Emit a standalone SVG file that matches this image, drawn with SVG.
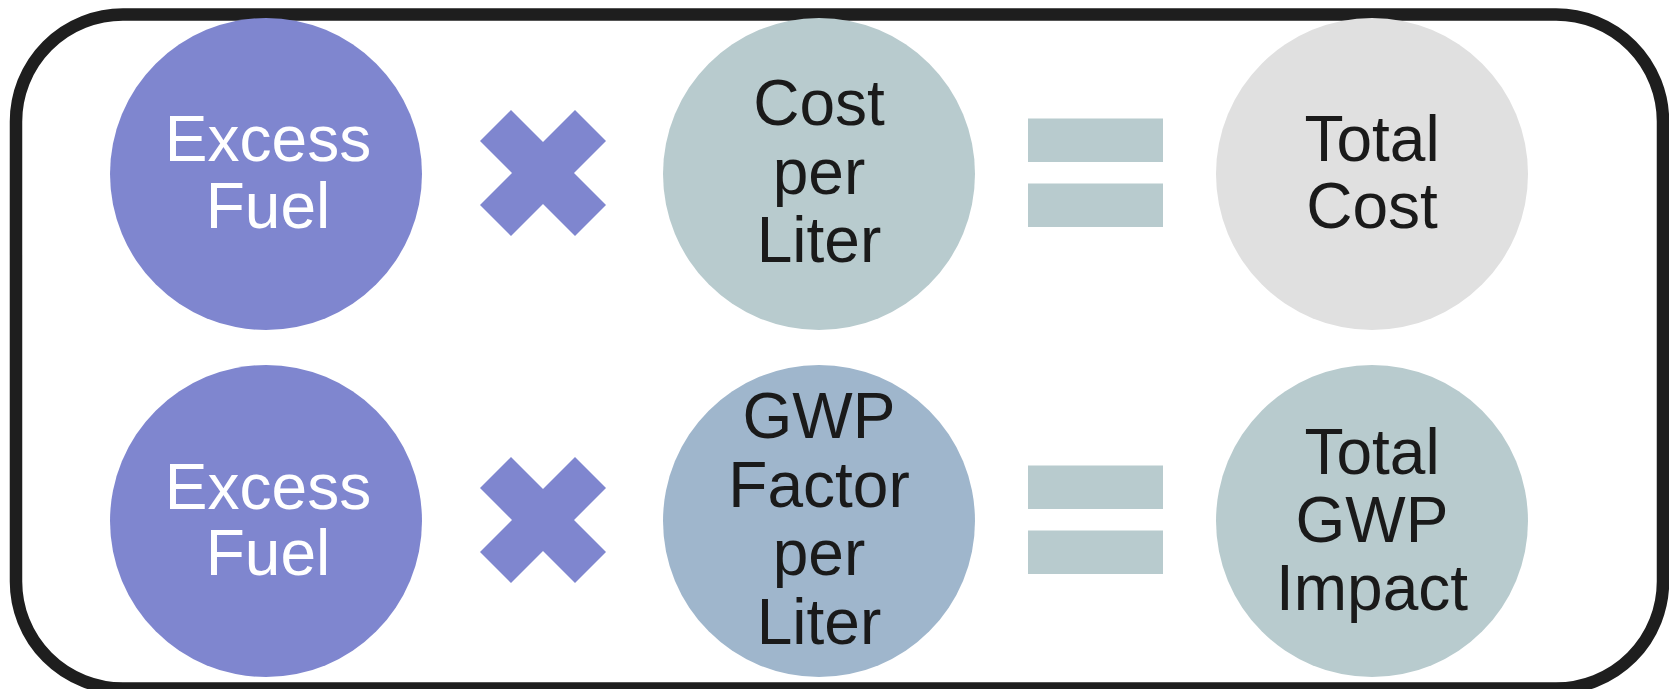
<svg xmlns="http://www.w3.org/2000/svg" width="1669" height="689" viewBox="0 0 1669 689">
  <style>
    .lbl { font-family: "Liberation Sans", Arial, sans-serif; font-size: 64px; text-anchor: middle; }
    .dark { fill: #1a1a1a; }
    .light { fill: #ffffff; }
    .purple { fill: #7f86cf; }
    .grayblue { fill: #b8cbce; }
    .gray { fill: #e0e0e0; }
    .blue { fill: #9fb6cc; }
  </style>
  <defs>
    <polygon id="times" points="-32,-63 0,-31 32,-63 63,-32 31,0 63,32 32,63 0,31 -32,63 -63,32 -31,0 -63,-32"/>
    <g id="equals">
      <rect x="1028" y="-54.5" width="135" height="43.5"/>
      <rect x="1028" y="10.5" width="135" height="43.5"/>
    </g>
  </defs>
  <rect x="0" y="0" width="1669" height="689" fill="#ffffff"/>
  <rect id="frame" x="16" y="14.5" width="1647" height="674" rx="107" ry="107" fill="none" stroke="#1e1e1e" stroke-width="12.5"/>

  <g id="connectors">
    <use href="#times" x="543" y="173" class="purple"/>
    <use href="#times" x="543" y="520" class="purple"/>
    <use href="#equals" x="0" y="173" class="grayblue"/>
    <use href="#equals" x="0" y="520" class="grayblue"/>
  </g>

  <g id="excess-fuel-1">
    <circle cx="266" cy="174" r="156" class="purple"/>
    <text class="lbl light" x="268" y="161">Excess</text>
    <text class="lbl light" x="268" y="228">Fuel</text>
  </g>
  <g id="cost-per-liter">
    <circle cx="819" cy="174" r="156" class="grayblue"/>
    <text class="lbl dark" x="819" y="125">Cost</text>
    <text class="lbl dark" x="819" y="193.5">per</text>
    <text class="lbl dark" x="819" y="262">Liter</text>
  </g>
  <g id="total-cost">
    <circle cx="1372" cy="174" r="156" class="gray"/>
    <text class="lbl dark" x="1372" y="161">Total</text>
    <text class="lbl dark" x="1372" y="227.5">Cost</text>
  </g>

  <g id="excess-fuel-2">
    <circle cx="266" cy="521" r="156" class="purple"/>
    <text class="lbl light" x="268" y="509">Excess</text>
    <text class="lbl light" x="268" y="575">Fuel</text>
  </g>
  <g id="gwp-factor-per-liter">
    <circle cx="819" cy="521" r="156" class="blue"/>
    <text class="lbl dark" x="819" y="438">GWP</text>
    <text class="lbl dark" x="819" y="507">Factor</text>
    <text class="lbl dark" x="819" y="575">per</text>
    <text class="lbl dark" x="819" y="643.5">Liter</text>
  </g>
  <g id="total-gwp-impact">
    <circle cx="1372" cy="521" r="156" class="grayblue"/>
    <text class="lbl dark" x="1372" y="474">Total</text>
    <text class="lbl dark" x="1372" y="542">GWP</text>
    <text class="lbl dark" x="1372" y="610">Impact</text>
  </g>
</svg>
